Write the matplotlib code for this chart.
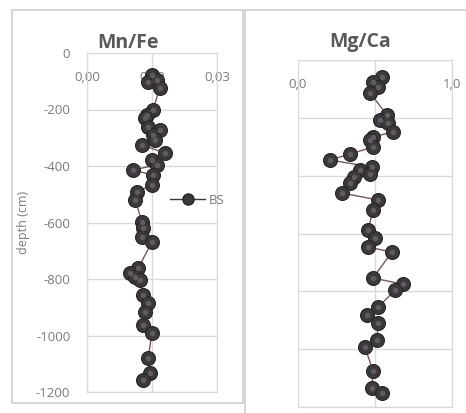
import matplotlib
matplotlib.use("Agg")
import matplotlib.pyplot as plt
from matplotlib.patches import Rectangle
from matplotlib.lines import Line2D

# Mn/Fe profile (BS core)
mnfe_val = [0.0150, 0.0141, 0.0162, 0.0168, 0.0152, 0.0138, 0.0134, 0.0141, 0.0168,
            0.0152, 0.0157, 0.0127, 0.0180, 0.0150, 0.0162, 0.0106, 0.0152, 0.0150,
            0.0115, 0.0111, 0.0127, 0.0129, 0.0127, 0.0150, 0.0118, 0.0099, 0.0111,
            0.0122, 0.0129, 0.0141, 0.0134, 0.0129, 0.0150, 0.0141, 0.0145, 0.0129]
mnfe_depth = [-78, -103, -96, -124, -202, -219, -230, -262, -273, -290, -308, -326,
              -354, -379, -396, -414, -432, -467, -492, -520, -598, -619, -651, -669,
              -761, -779, -793, -803, -857, -885, -917, -963, -991, -1080, -1133, -1158]

# Mg/Ca profile
mgca_val = [0.545, 0.487, 0.520, 0.468, 0.578, 0.532, 0.584, 0.617, 0.487, 0.468,
            0.487, 0.338, 0.208, 0.480, 0.403, 0.468, 0.364, 0.338, 0.286, 0.520,
            0.487, 0.455, 0.500, 0.455, 0.610, 0.487, 0.680, 0.630, 0.520, 0.448,
            0.520, 0.513, 0.435, 0.487, 0.480, 0.545]
mgca_depth = [-59, -76, -93, -114, -190, -208, -218, -249, -266, -277, -301, -325,
              -346, -370, -381, -394, -405, -426, -460, -484, -519, -588, -616, -647,
              -664, -754, -775, -796, -855, -882, -910, -969, -993, -1076, -1135, -1152]

mnfe_ticks = [0.0, 0.015, 0.03]
mnfe_labels = ["0,00", "0,02", "0,03"]
mgca_ticks = [0.0, 0.5, 1.0]
mgca_labels = ["0,0", "0,5", "1,0"]
depth_ticks = [0, -200, -400, -600, -800, -1000, -1200]

W, H = 466, 413
plt.rcParams['font.family'] = ['Open Sans', 'DejaVu Sans']
plt.rcParams['axes.unicode_minus'] = False
fig = plt.figure(figsize=(W / 100, H / 100), dpi=100)

grid_c = '#d9d9d9'
txt_c = '#7a7a7a'
line_c = '#7a5858'
mark_c = '#3c393c'


def px_axes(l, t, r, b):
    return fig.add_axes([l / W, 1 - b / H, (r - l) / W, (b - t) / H])


def style(ax, ticks, labels, xmax):
    ax.set_xlim(0, xmax)
    ax.set_ylim(-1200, 0)
    ax.xaxis.tick_top()
    ax.set_xticks(ticks)
    ax.set_xticklabels(labels)
    ax.set_yticks(depth_ticks)
    ax.grid(True, color=grid_c, lw=1)
    ax.set_axisbelow(True)
    for s in ax.spines.values():
        s.set_color(grid_c)
    ax.tick_params(length=0, colors=txt_c, labelsize=9.5)
    ax.tick_params(axis='x', pad=-22)


def draw(ax, x, y):
    ax.plot(x, y, '-', color=line_c, lw=1, zorder=2)
    ax.plot(x, y, 'o', ms=10, color=mark_c, mec='#262426', mew=0.8, zorder=3, label='BS')
    ax.plot(x, y, 'o', ms=4, color='#5f5b5f', mew=0, zorder=4)


# chart frames
fig.patches.append(Rectangle((12 / W, 1 - 403 / H), 231 / W, 393 / H, transform=fig.transFigure,
                             fill=False, ec='#d0d0d0', lw=1.2))
fig.lines.append(Line2D([245 / W, 245 / W, 1], [0, 1 - 10 / H, 1 - 10 / H],
                        transform=fig.transFigure, color='#d0d0d0', lw=1.2))

ax1 = px_axes(87, 53, 217, 392)
style(ax1, mnfe_ticks, mnfe_labels, 0.03)
ax1.tick_params(axis='y', pad=12)
draw(ax1, mnfe_val, mnfe_depth)
ax1.set_ylabel('depth (cm)', color=txt_c, fontsize=9, labelpad=4)
handles = [Line2D([], [], color=mark_c, lw=1, marker='o', ms=8, mec='#262426')]
ax1.legend(handles, ['BS'], loc='center left', bbox_to_anchor=(0.55, 0.565), frameon=False,
           fontsize=9.5, labelcolor=txt_c, handlelength=2.6, handletextpad=0.3)

ax2 = px_axes(298, 60, 452, 407)
style(ax2, mgca_ticks, mgca_labels, 1.0)
ax2.set_yticklabels([])
draw(ax2, mgca_val, mgca_depth)

fig.text(128 / W, 1 - 43 / H, 'Mn/Fe', ha='center', va='center', fontsize=14,
         fontweight='bold', color='#595959')
fig.text(360 / W, 1 - 42 / H, 'Mg/Ca', ha='center', va='center', fontsize=14,
         fontweight='bold', color='#595959')

fig.savefig('out.png', dpi=100)
